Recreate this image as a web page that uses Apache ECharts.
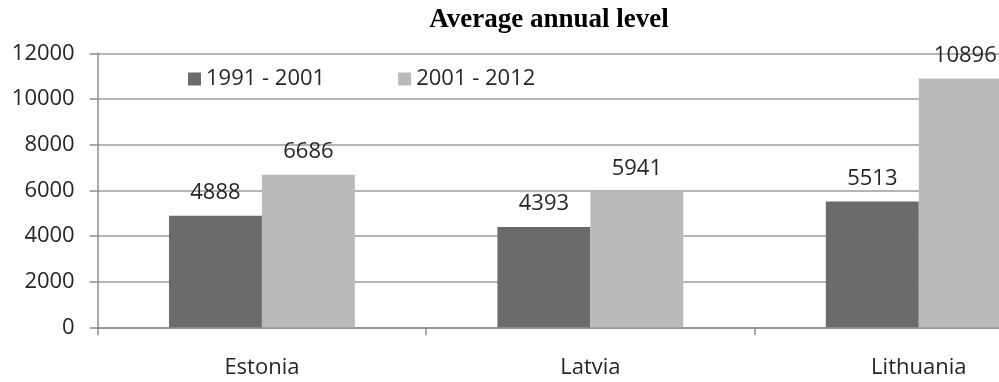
<!DOCTYPE html>
<html>
<head>
<meta charset="utf-8">
<script src="https://cdn.jsdelivr.net/npm/echarts@6/dist/echarts.min.js"></script>
<style>
  html, body { margin: 0; padding: 0; background: #fff; overflow: hidden; width: 999px; height: 382px; }
  /* the drawing surface is wider than the page, so the last category is cut off at the right edge */
  #chart { width: 1083px; height: 382px; }
</style>
</head>
<body>
<div id="chart"></div>
<script>
// Average annual level by country, two periods
const countries = ['Estonia', 'Latvia', 'Lithuania'];
const period1Name = '1991 - 2001';
const period2Name = '2001 - 2012';
const period1Values = [4888, 4393, 5513];
const period2Values = [6686, 5941, 10896];
const yTicks = [0, 2000, 4000, 6000, 8000, 10000, 12000];

const textColor = '#262626';
const uiFont = '"Open Sans", sans-serif';
const fontPx = 22;

const chart = echarts.init(document.getElementById('chart'), null, { renderer: 'canvas' });

const labelStyle = {
  show: true,
  position: 'top',
  distance: 12,
  color: textColor,
  fontFamily: uiFont,
  fontSize: fontPx
};

chart.setOption({
  animation: false,
  backgroundColor: '#ffffff',
  title: {
    text: 'Average annual level',
    left: 544,
    textAlign: 'center',
    top: 2,
    textStyle: {
      fontFamily: '"Liberation Serif", "Times New Roman", serif',
      fontWeight: 'bold',
      fontSize: 27,
      color: '#000'
    }
  },
  legend: {
    left: 183,
    top: 63,
    itemWidth: 13,
    itemHeight: 13,
    itemGap: 73,
    icon: 'rect',
    textStyle: { color: textColor, fontFamily: uiFont, fontSize: fontPx },
    data: [period1Name, period2Name]
  },
  grid: {
    left: 97.7,
    right: 0,
    top: 53.3,
    bottom: 54.7,
    containLabel: false
  },
  xAxis: {
    type: 'category',
    data: countries,
    boundaryGap: true,
    axisLine: { lineStyle: { color: '#8c8c8c', width: 1.5 } },
    axisTick: { show: true, length: 8, lineStyle: { color: '#8c8c8c', width: 1.5 } },
    axisLabel: { margin: 29, color: textColor, fontFamily: uiFont, fontSize: fontPx }
  },
  yAxis: {
    type: 'value',
    min: yTicks[0],
    max: yTicks[yTicks.length - 1],
    interval: yTicks[1] - yTicks[0],
    axisLine: { show: true, lineStyle: { color: '#8c8c8c', width: 1.5 } },
    axisTick: { show: true, length: 8, lineStyle: { color: '#8c8c8c', width: 1.5 } },
    axisLabel: {
      margin: 23,
      color: textColor,
      fontFamily: uiFont,
      fontSize: fontPx,
      formatter: (v) => String(v)
    },
    splitLine: { show: true, lineStyle: { color: '#9d9d9d', width: 1.5 } }
  },
  series: [
    {
      name: period1Name,
      type: 'bar',
      data: period1Values,
      barWidth: '28.3%',
      barGap: '0%',
      itemStyle: { color: '#6b6b6b' },
      label: labelStyle
    },
    {
      name: period2Name,
      type: 'bar',
      data: period2Values,
      barWidth: '28.3%',
      barGap: '0%',
      itemStyle: { color: '#bababa' },
      label: labelStyle
    }
  ]
});
</script>
</body>
</html>
